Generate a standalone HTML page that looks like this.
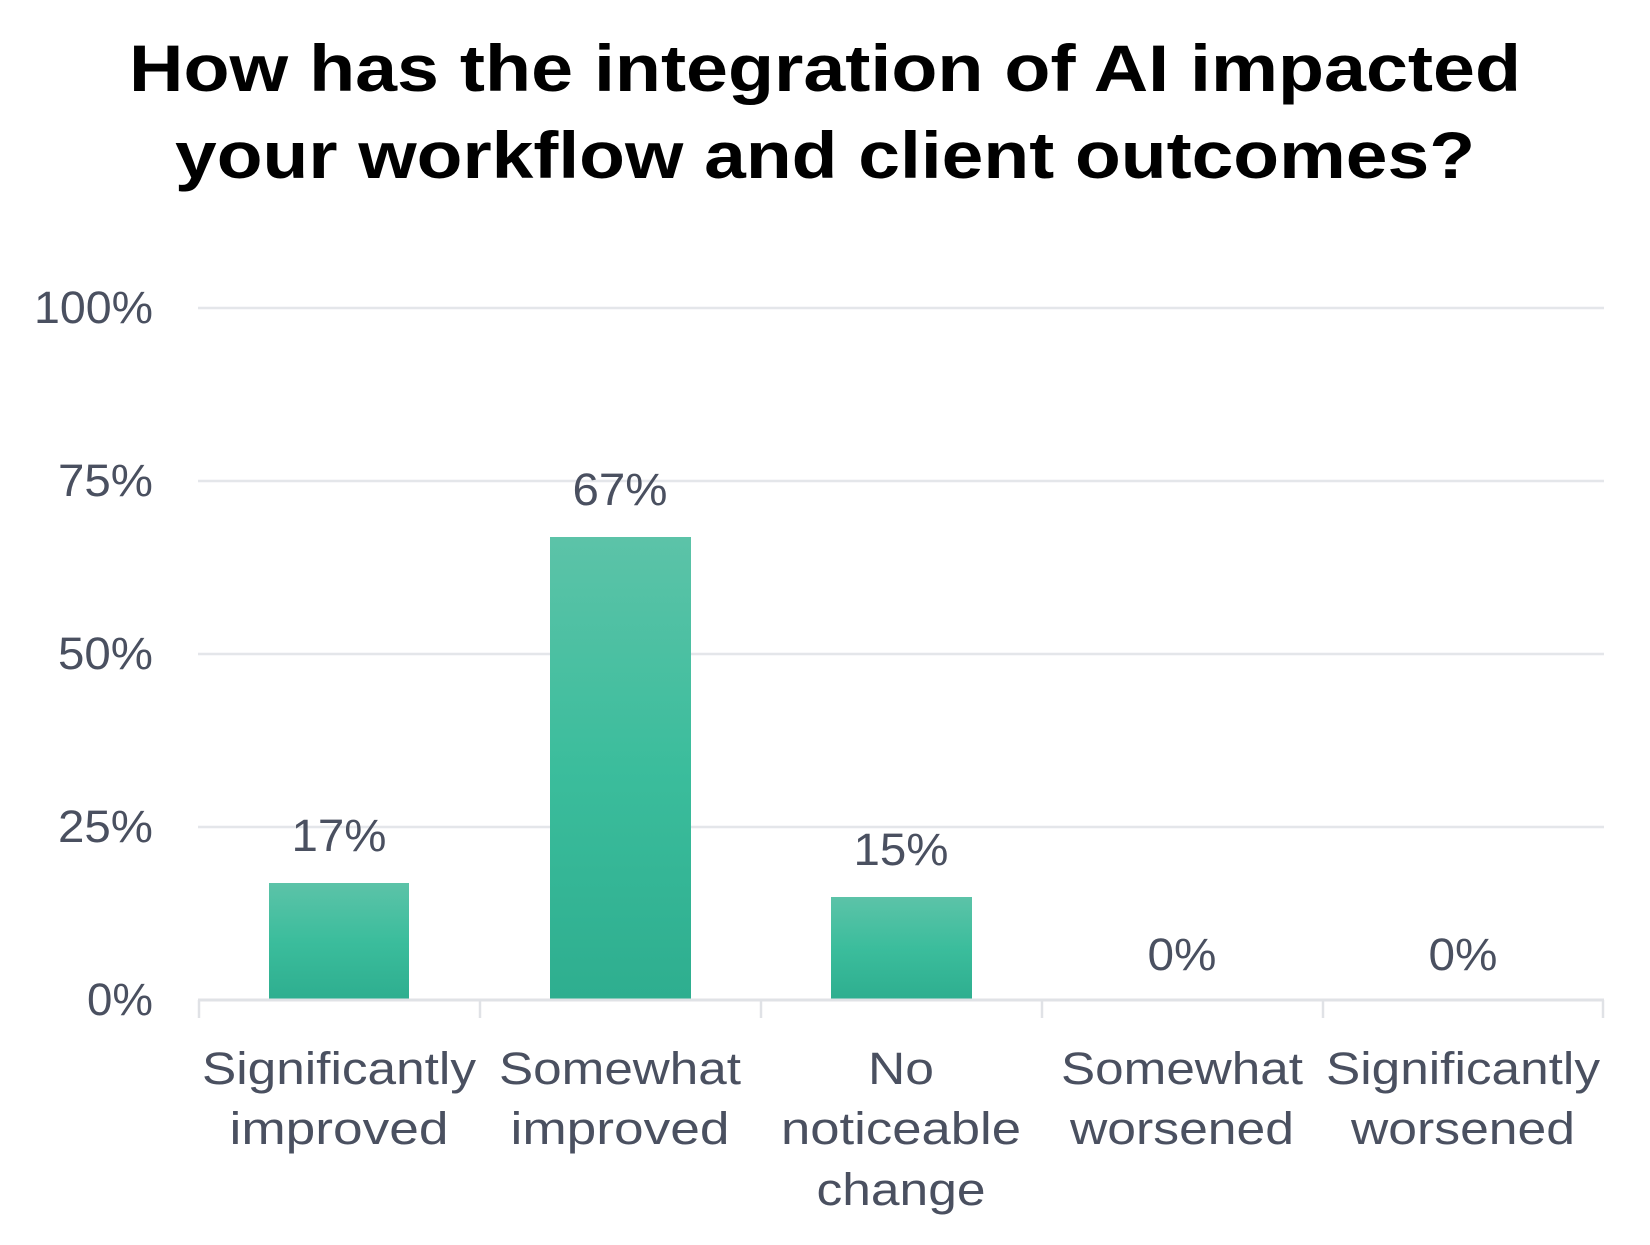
<!DOCTYPE html>
<html><head><meta charset="utf-8"><style>
html,body{margin:0;padding:0;background:#fff;}
svg{display:block;}
text{font-family:"Liberation Sans",sans-serif;}
</style></head><body>
<svg width="1650" height="1245" viewBox="0 0 1650 1245" xmlns="http://www.w3.org/2000/svg">
<defs>
<linearGradient id="g" x1="0" y1="0" x2="0" y2="1">
<stop offset="0" stop-color="#5cc3a8"/><stop offset="0.5" stop-color="#3bbd9c"/><stop offset="1" stop-color="#2eae8f"/>
</linearGradient>
</defs>
<text x="825" y="91" text-anchor="middle" font-size="66" font-weight="bold" fill="#000" textLength="1392" lengthAdjust="spacingAndGlyphs">How has the integration of AI impacted</text>
<text x="825" y="178" text-anchor="middle" font-size="66" font-weight="bold" fill="#000" textLength="1300" lengthAdjust="spacingAndGlyphs">your workflow and client outcomes?</text>
<g stroke="#e4e6ea" stroke-width="2.5">
<line x1="198" y1="308" x2="1604" y2="308"/>
<line x1="198" y1="481" x2="1604" y2="481"/>
<line x1="198" y1="654" x2="1604" y2="654"/>
<line x1="198" y1="827" x2="1604" y2="827"/>
</g>
<g fill="#4a5060" font-size="45" text-anchor="end">
<text x="153" y="323" textLength="119" lengthAdjust="spacingAndGlyphs">100%</text>
<text x="153" y="496" textLength="95" lengthAdjust="spacingAndGlyphs">75%</text>
<text x="153" y="669" textLength="95" lengthAdjust="spacingAndGlyphs">50%</text>
<text x="153" y="842" textLength="95" lengthAdjust="spacingAndGlyphs">25%</text>
<text x="153" y="1015" textLength="66" lengthAdjust="spacingAndGlyphs">0%</text>
</g>
<rect x="269" y="883" width="140" height="117" fill="url(#g)"/>
<rect x="550" y="537" width="141" height="463" fill="url(#g)"/>
<rect x="831" y="897" width="141" height="103" fill="url(#g)"/>
<g stroke="#e0e2e6" stroke-width="2.5">
<line x1="198" y1="1000" x2="1604" y2="1000" stroke-width="3"/>
<line x1="199" y1="1000" x2="199" y2="1018"/>
<line x1="480" y1="1000" x2="480" y2="1018"/>
<line x1="761" y1="1000" x2="761" y2="1018"/>
<line x1="1042" y1="1000" x2="1042" y2="1018"/>
<line x1="1323" y1="1000" x2="1323" y2="1018"/>
<line x1="1603" y1="1000" x2="1603" y2="1018"/>
</g>
<g fill="#4a5060" font-size="45" text-anchor="middle">
<text x="339" y="851" textLength="95" lengthAdjust="spacingAndGlyphs">17%</text>
<text x="620" y="505" textLength="95" lengthAdjust="spacingAndGlyphs">67%</text>
<text x="901" y="865" textLength="95" lengthAdjust="spacingAndGlyphs">15%</text>
<text x="1182" y="970" textLength="69" lengthAdjust="spacingAndGlyphs">0%</text>
<text x="1463" y="970" textLength="69" lengthAdjust="spacingAndGlyphs">0%</text>
</g>
<g fill="#4a5060" font-size="45" text-anchor="middle">
<text x="339" y="1084" textLength="274" lengthAdjust="spacingAndGlyphs">Significantly</text>
<text x="339" y="1144" textLength="219" lengthAdjust="spacingAndGlyphs">improved</text>
<text x="620" y="1084" textLength="242" lengthAdjust="spacingAndGlyphs">Somewhat</text>
<text x="620" y="1144" textLength="219" lengthAdjust="spacingAndGlyphs">improved</text>
<text x="901" y="1084" textLength="66" lengthAdjust="spacingAndGlyphs">No</text>
<text x="901" y="1144" textLength="240" lengthAdjust="spacingAndGlyphs">noticeable</text>
<text x="901" y="1205" textLength="169" lengthAdjust="spacingAndGlyphs">change</text>
<text x="1182" y="1084" textLength="242" lengthAdjust="spacingAndGlyphs">Somewhat</text>
<text x="1182" y="1144" textLength="224" lengthAdjust="spacingAndGlyphs">worsened</text>
<text x="1463" y="1084" textLength="274" lengthAdjust="spacingAndGlyphs">Significantly</text>
<text x="1463" y="1144" textLength="224" lengthAdjust="spacingAndGlyphs">worsened</text>
</g>
</svg>
</body></html>
